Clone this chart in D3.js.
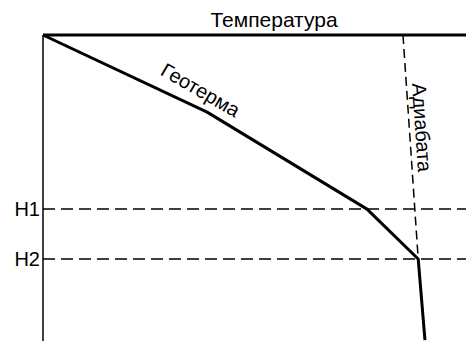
<!DOCTYPE html>
<html>
<head>
<meta charset="utf-8">
<script src="https://cdn.jsdelivr.net/npm/d3@7"></script>
<style>
  body { margin: 0; background: #fff; }
  svg text { font-family: "Liberation Sans", Arial, sans-serif; fill: #000; }
</style>
</head>
<body>
<div id="chart"></div>
<script>
// temperature (x) and depth (y), arbitrary units 0..100
var geoTemp  = [0, 38.8, 76.6, 88.7, 90.3];
var geoDepth = [0, 25.2, 56.9, 73.2, 99.7];
var adiTemp  = [85.1, 88.7];
var adiDepth = [0, 73.2];
var levelNames  = ["H1", "H2"];
var levelDepths = [56.9, 73.2];
var titleText = "Температура";
var geoLabel = "Геотерма";
var adiLabel = "Адиабата";

var width = 466, height = 341;
var svg = d3.select("#chart").append("svg")
    .attr("width", width)
    .attr("height", height);

var x = d3.scaleLinear().domain([0, 100]).range([43, 466]);
var y = d3.scaleLinear().domain([0, 100]).range([35, 341]);

// left axis
svg.append("line")
    .attr("x1", x(0)).attr("x2", x(0))
    .attr("y1", y(0)).attr("y2", y(100))
    .attr("stroke", "#000").attr("stroke-width", 1.5);

// level lines H1, H2
levelDepths.forEach(function(d, i){
    svg.append("line")
        .attr("x1", x(0)).attr("x2", x(100))
        .attr("y1", y(d)).attr("y2", y(d))
        .attr("stroke", "#000").attr("stroke-width", 1.5)
        .attr("stroke-dasharray", "12,6");
    svg.append("text")
        .attr("x", x(0) - 3).attr("y", y(d) + 7)
        .attr("text-anchor", "end")
        .attr("font-size", 20)
        .text(levelNames[i]);
});

// adiabat
var adiData = adiTemp.map(function(t, i){ return [t, adiDepth[i]]; });
svg.append("path")
    .datum(adiData)
    .attr("d", d3.line().x(function(d){ return x(d[0]); }).y(function(d){ return y(d[1]); }))
    .attr("fill", "none").attr("stroke", "#000").attr("stroke-width", 1.5)
    .attr("stroke-dasharray", "9,5");

// geotherm
var geoData = geoTemp.map(function(t, i){ return [t, geoDepth[i]]; });
svg.append("path")
    .datum(geoData)
    .attr("d", d3.line().x(function(d){ return x(d[0]); }).y(function(d){ return y(d[1]); }))
    .attr("fill", "none").attr("stroke", "#000").attr("stroke-width", 3)
    .attr("stroke-linejoin", "round");

// top line
svg.append("line")
    .attr("x1", x(0)).attr("x2", x(100))
    .attr("y1", y(0)).attr("y2", y(0))
    .attr("stroke", "#000").attr("stroke-width", 3);

svg.append("text")
    .attr("x", 274).attr("y", 27)
    .attr("text-anchor", "middle")
    .attr("font-size", 21)
    .text(titleText);

// line labels
svg.append("text")
    .attr("transform", "translate(197,96) rotate(30)")
    .attr("text-anchor", "middle")
    .attr("font-size", 20)
    .text(geoLabel);

svg.append("text")
    .attr("transform", "translate(415,128) rotate(86)")
    .attr("text-anchor", "middle")
    .attr("font-size", 20)
    .text(adiLabel);
</script>
</body>
</html>
